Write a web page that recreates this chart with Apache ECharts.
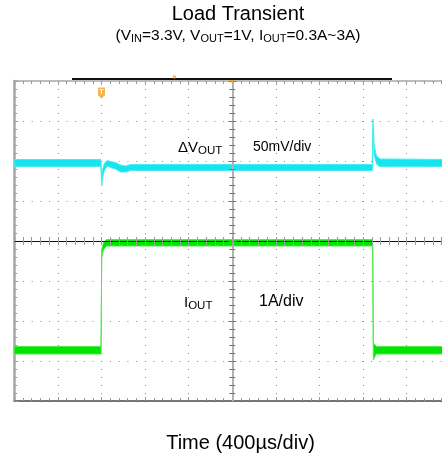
<!DOCTYPE html>
<html><head><meta charset="utf-8">
<script src="https://cdn.jsdelivr.net/npm/echarts@6/dist/echarts.min.js"></script>
<style>html,body{margin:0;padding:0;background:#fff}#c{width:442px;height:462px}</style>
</head><body><div id="c"></div>
<script>
// ---- Data (time in µs relative to screen centre; 400 µs/div) ----
// ΔVOUT trace envelope (mV, 50 mV/div): upper and lower edge of the noisy trace
const cyanTimeUs  = [-2000, -1206, -1198, -1191, -1172, -1145, -1117, -1071, -1025, -979, -933, 1286, 1290, 1302, 1323, 1356, 2000];
const cyanUpperMv = [  4.4,   4.4, -15.0,  -8.8,   0.0,   3.1,   1.9,   0.6,  -2.5, -3.8, -1.9, -1.9, 55.0, 21.3,  8.8,  5.0,  4.4];
const cyanLowerMv = [ -4.4,  -4.4, -28.8, -18.8,  -8.8,  -3.8,  -5.6,  -7.5, -11.3, -11.3, -9.4, -9.4, 41.3, 10.0, -1.3, -4.6, -4.4];
// IOUT trace envelope (A, 1 A/div)
const greenTimeUs = [-2000, -1204, -1198, -1183, -1155, 1288, 1294, 1320, 2000];
const greenUpperA = [ 0.39,  0.39,  2.80,  2.98,  3.06, 3.06, 0.48, 0.39, 0.39];
const greenLowerA = [ 0.20,  0.20,  2.60,  2.80,  2.90, 2.90, 0.05, 0.20, 0.20];
// scope markers (time µs, vertical position in divisions)
const triggerMarker  = [[-1200, 3.70]];
const centerMarker   = [[0, 3.98]];
const recordMarker   = [[-530, 4.09]];
// texts
const titleText = 'Load Transient';
const xAxisTitle = 'Time (400µs/div)';
const vLabel = '50mV/div';
const iLabel = '1A/div';

const FONT = '"Liberation Sans", Arial, Helvetica, sans-serif';
const CYAN = '#16e4ee', CYAN_EDGE = '#45ecf3';
const GREEN = '#00e400', GREEN_EDGE = '#4cec4c';

const chart = echarts.init(document.getElementById('c'), null, {renderer: 'canvas'});

function envelope(name, yAxisIndex, t, hi, lo, fill, edge) {
  return {
    name: name, type: 'custom', xAxisIndex: 0, yAxisIndex: yAxisIndex, z: 3, clip: false,
    data: [[t[0], lo[0]]],
    renderItem: function (params, api) {
      const up = t.map((x, i) => api.coord([x, hi[i]]));
      const dn = t.map((x, i) => api.coord([x, lo[i]])).reverse();
      return {type: 'polygon', shape: {points: up.concat(dn)},
        style: {fill: fill, stroke: edge, lineWidth: 1}};
    }
  };
}

const xBase = {type: 'value', min: -2000, max: 2000, interval: 400, axisLabel: {show: false}, splitLine: {show: false}};
const yDiv = {type: 'value', min: -4, max: 4, interval: 1, axisLabel: {show: false}, splitLine: {show: false}};
const tickGray = {color: '#9a9a9a', width: 1};
const tickDark = {color: '#777', width: 1};

chart.setOption({
  animation: false,
  backgroundColor: '#fff',
  grid: {left: 14.3, top: 81, width: 436, height: 320, containLabel: false, outerBoundsMode: 'none'},
  xAxis: [
    Object.assign({}, xBase, {position: 'bottom',
      axisLine: {onZero: false, lineStyle: {color: '#4a4a4a', width: 1.5}},
      axisTick: {show: true, inside: true, length: 4, lineStyle: tickGray},
      minorTick: {show: true, splitNumber: 5, length: 3, lineStyle: tickGray},
      splitLine: {show: true, lineStyle: {color: '#8c8c8c', width: 1, type: [1, 7]}}}),
    Object.assign({}, xBase, {position: 'bottom', z: 10,
      axisLine: {onZero: true, onZeroAxisIndex: 0, lineStyle: {color: '#111', width: 1}},
      axisTick: {show: true, inside: true, length: 4, lineStyle: tickGray},
      minorTick: {show: true, splitNumber: 5, length: 4, lineStyle: tickGray}}),
    Object.assign({}, xBase, {position: 'top', z: 10,
      axisLine: {onZero: true, onZeroAxisIndex: 0, lineStyle: {color: '#111', width: 1}},
      axisTick: {show: true, inside: true, length: 4, lineStyle: tickGray},
      minorTick: {show: true, splitNumber: 5, length: 4, lineStyle: tickGray}}),
    Object.assign({}, xBase, {position: 'top',
      axisLine: {onZero: false, lineStyle: {color: '#a8a8a8', width: 1.5}},
      axisTick: {show: true, inside: true, length: 4, lineStyle: tickGray},
      minorTick: {show: true, splitNumber: 5, length: 3, lineStyle: tickGray}})
  ],
  yAxis: [
    Object.assign({}, yDiv, {position: 'left',
      axisLine: {onZero: false, lineStyle: {color: '#a6a6a6', width: 2.5}},
      axisTick: {show: true, inside: true, length: 4, lineStyle: tickGray},
      minorTick: {show: true, splitNumber: 5, length: 3, lineStyle: tickGray},
      splitLine: {show: true, lineStyle: {color: '#8c8c8c', width: 1, type: [1, 7.7]}}}),
    Object.assign({}, yDiv, {position: 'left', z: 10,
      axisLine: {onZero: true, onZeroAxisIndex: 0, lineStyle: {color: '#b0b0b0', width: 2}},
      axisTick: {show: true, inside: true, length: 4, lineStyle: tickDark},
      minorTick: {show: true, splitNumber: 5, length: 3, lineStyle: tickDark}}),
    Object.assign({}, yDiv, {position: 'right', z: 10,
      axisLine: {onZero: true, onZeroAxisIndex: 0, lineStyle: {color: '#b0b0b0', width: 2}},
      axisTick: {show: true, inside: true, length: 4, lineStyle: tickDark},
      minorTick: {show: true, splitNumber: 5, length: 3, lineStyle: tickDark}}),
    {type: 'value', show: false, min: -297.5, max: 102.5},
    {type: 'value', show: false, min: -0.975, max: 7.025}
  ],
  series: [
    envelope('ΔVOUT', 3, cyanTimeUs, cyanUpperMv, cyanLowerMv, CYAN, CYAN_EDGE),
    envelope('IOUT', 4, greenTimeUs, greenUpperA, greenLowerA, GREEN, GREEN_EDGE),
    {name: 'trigger', type: 'scatter', xAxisIndex: 0, yAxisIndex: 0, clip: false, z: 12,
      data: triggerMarker, symbol: 'path://M1,0 L9,0 Q10,0 10,1 L10,10 L5,14 L0,10 L0,1 Q0,0 1,0 Z',
      symbolSize: [7, 11], itemStyle: {color: '#f5a020'},
      label: {show: true, position: 'inside', formatter: 'T', color: '#fff', fontSize: 8, fontWeight: 'bold', fontFamily: FONT, offset: [0, -1]}},
    {name: 'center', type: 'scatter', xAxisIndex: 0, yAxisIndex: 0, clip: false, z: 12,
      data: centerMarker, symbol: 'triangle', symbolRotate: 180, symbolSize: [6, 5], itemStyle: {color: '#f5a020'}},
    {name: 'record', type: 'scatter', xAxisIndex: 0, yAxisIndex: 0, clip: false, z: 25,
      data: recordMarker, symbol: 'triangle', symbolRotate: 180, symbolSize: [4, 4], itemStyle: {color: '#f5a020'}}
  ],
  graphic: [
    {type: 'line', z: 20, shape: {x1: 72, y1: 79, x2: 392, y2: 79}, style: {stroke: '#111', lineWidth: 2}},
    {type: 'text', x: 238, y: 14, z: 30, style: {text: titleText, fill: '#000', font: '20px ' + FONT,
      textAlign: 'center', align: 'center', textVerticalAlign: 'middle', verticalAlign: 'middle'}},
    {type: 'text', x: 238, y: 35.5, z: 30, style: {
      text: '(V{s|IN}=3.3V, V{s|OUT}=1V, I{s|OUT}=0.3A~3A)', fill: '#000', fontSize: 15.5, fontFamily: FONT, lineHeight: 18,
      textAlign: 'center', align: 'center', textVerticalAlign: 'middle', verticalAlign: 'middle',
      rich: {s: {fontSize: 11, fontFamily: FONT, lineHeight: 11, padding: [7, 0, 0, 0], fill: '#000', color: '#000'}}}},
    {type: 'text', x: 178, y: 147.5, z: 30, style: {
      text: 'ΔV{s|OUT}', fill: '#000', fontSize: 15, fontFamily: FONT, lineHeight: 18,
      textAlign: 'left', align: 'left', textVerticalAlign: 'middle', verticalAlign: 'middle',
      rich: {s: {fontSize: 11.5, fontFamily: FONT, lineHeight: 11, padding: [7, 0, 0, 0], fill: '#000', color: '#000'}}}},
    {type: 'text', x: 253, y: 147.5, z: 30, style: {text: vLabel, fill: '#000', font: '14px ' + FONT,
      textAlign: 'left', align: 'left', textVerticalAlign: 'middle', verticalAlign: 'middle'}},
    {type: 'text', x: 184, y: 302.5, z: 30, style: {
      text: 'I{s|OUT}', fill: '#000', fontSize: 15, fontFamily: FONT, lineHeight: 18,
      textAlign: 'left', align: 'left', textVerticalAlign: 'middle', verticalAlign: 'middle',
      rich: {s: {fontSize: 11.5, fontFamily: FONT, lineHeight: 11, padding: [7, 0, 0, 0], fill: '#000', color: '#000'}}}},
    {type: 'text', x: 259, y: 302, z: 30, style: {text: iLabel, fill: '#000', font: '16px ' + FONT,
      textAlign: 'left', align: 'left', textVerticalAlign: 'middle', verticalAlign: 'middle'}},
    {type: 'text', x: 240.5, y: 443.3, z: 30, style: {text: xAxisTitle, fill: '#000', font: '20px ' + FONT,
      textAlign: 'center', align: 'center', textVerticalAlign: 'middle', verticalAlign: 'middle'}}
  ]
});
</script></body></html>
